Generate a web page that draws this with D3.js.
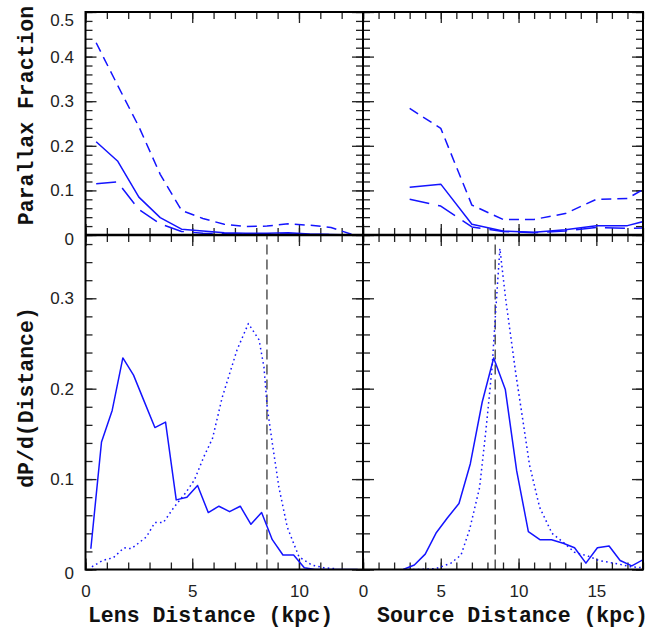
<!DOCTYPE html>
<html>
<head>
<meta charset="utf-8">
<script src="https://cdn.jsdelivr.net/npm/d3@7"></script>
<style>
  body { margin: 0; background: #fff; }
  svg { display: block; }
  .axis-title {
    font-family: "Liberation Mono", "DejaVu Sans Mono", monospace;
    font-weight: bold;
    font-size: 21.5px;
    fill: #111;
  }
</style>
</head>
<body>
<svg width="663" height="629"></svg>
<script>
"use strict";

// ---- data ----
// top panels: parallax fraction per distance bin
const lensBins = [0.5, 1.5, 2.5, 3.5, 4.5, 5.5, 6.5, 7.5, 8.5, 9.5, 10.5, 11.5, 12.5];
const lensFracDashed = [0.431, 0.336, 0.243, 0.136, 0.055, 0.037, 0.024, 0.019, 0.020, 0.025, 0.022, 0.017, 0.001];
const lensFracSolid = [0.209, 0.166, 0.085, 0.039, 0.013, 0.009, 0.005, 0.004, 0.004, 0.005, 0.002, 0.001, 0.0];
const lensFracLong = [0.115, 0.119, 0.057, 0.025, 0.008, 0.004, 0.003, 0.002, 0.002, 0.002, 0.001, 0.001, 0.0];

const sourceBins = [3, 5, 7, 9, 11, 13, 15, 17, 19];
const sourceFracDashed = [0.284, 0.239, 0.067, 0.035, 0.035, 0.048, 0.080, 0.082, 0.122];
const sourceFracSolid = [0.107, 0.114, 0.024, 0.009, 0.006, 0.012, 0.021, 0.021, 0.039];
const sourceFracLong = [0.080, 0.065, 0.018, 0.008, 0.005, 0.009, 0.017, 0.015, 0.016];

// bottom panels: dP/d(distance)
const lensSolidX = [0.25, 0.75, 1.25, 1.75, 2.25, 2.75, 3.25, 3.75, 4.25, 4.75, 5.25, 5.75, 6.25, 6.75, 7.25, 7.75, 8.25, 8.75, 9.25, 9.75, 10.25, 10.75, 12.75];
const lensSolidY = [0.023, 0.141, 0.176, 0.234, 0.215, 0.186, 0.157, 0.163, 0.077, 0.080, 0.093, 0.063, 0.070, 0.064, 0.070, 0.050, 0.063, 0.033, 0.016, 0.016, 0.002, 0.0, 0.0];
const lensDotX = [0.3, 0.8, 1.3, 1.8, 2.15, 2.85, 3.25, 3.65, 4.15, 4.7, 5.1, 5.55, 5.95, 6.4, 7.1, 7.63, 8.13, 8.36, 8.51, 8.75, 9.06, 9.45, 10.0, 10.6, 11.15, 11.7];
const lensDotY = [0.003, 0.010, 0.013, 0.024, 0.023, 0.036, 0.052, 0.052, 0.069, 0.085, 0.099, 0.125, 0.145, 0.190, 0.243, 0.272, 0.254, 0.224, 0.180, 0.140, 0.091, 0.047, 0.014, 0.005, 0.002, 0.001];

const sourceSolidX = [2.58, 3.3, 4.0, 4.72, 5.42, 6.17, 6.9, 7.66, 8.4, 9.15, 9.88, 10.63, 11.37, 12.12, 12.87, 13.6, 14.33, 15.07, 15.82, 16.53, 17.28, 18.02];
const sourceSolidY = [0.0, 0.005, 0.017, 0.041, 0.057, 0.073, 0.117, 0.185, 0.234, 0.199, 0.109, 0.042, 0.033, 0.033, 0.029, 0.024, 0.007, 0.024, 0.026, 0.010, 0.004, 0.011];
const sourceDotX = [2.9, 3.65, 4.7, 5.65, 6.3, 6.85, 7.5, 7.95, 8.3, 8.55, 8.8, 9.18, 9.82, 10.25, 10.7, 11.35, 12.15, 12.95, 13.6, 14.45, 15.15, 15.8, 16.45, 17.2, 17.95];
const sourceDotY = [0.0, 0.0, 0.001, 0.007, 0.016, 0.044, 0.091, 0.162, 0.224, 0.291, 0.355, 0.298, 0.217, 0.168, 0.116, 0.069, 0.040, 0.029, 0.019, 0.015, 0.010, 0.008, 0.006, 0.003, 0.002];

const galacticCenter = 8.5;

// ticks
const lensTicks = [0, 5, 10];
const sourceTicks = [0, 5, 10, 15];
const fracTicks = [0, 0.1, 0.2, 0.3, 0.4, 0.5];
const densTicks = [0, 0.1, 0.2, 0.3];

// ---- layout ----
const svg = d3.select("svg");
const edgeL = 85.5, edgeMid = 363, edgeR = 643;
const edgeT = 12, edgeHMid = 235, edgeB = 569.5;
const blue = "#1414ff";
const major = 11, minor = 7;

const xLens = d3.scaleLinear().domain([0, 13]).range([edgeL, edgeMid]);
const xSource = d3.scaleLinear().domain([0, 18]).range([edgeMid, edgeR]);
const yFrac = d3.scaleLinear().domain([0, 0.5]).range([edgeHMid, edgeT]);
const yDens = d3.scaleLinear().domain([0, 0.37]).range([edgeB, edgeHMid]);

const panels = [
  { id: "tl", x: xLens, y: yFrac, xMinor: d3.range(0, 13.01, 1), yMinor: d3.range(0, 0.501, 0.02) },
  { id: "tr", x: xSource, y: yFrac, xMinor: d3.range(0, 18.01, 1), yMinor: d3.range(0, 0.501, 0.02) },
  { id: "bl", x: xLens, y: yDens, xMinor: d3.range(0, 13.01, 1), yMinor: d3.range(0, 0.371, 0.02) },
  { id: "br", x: xSource, y: yDens, xMinor: d3.range(0, 18.01, 1), yMinor: d3.range(0, 0.371, 0.02) }
];

const defs = svg.append("defs");
panels.forEach(p => {
  const [x0, x1] = p.x.range();
  const [y0, y1] = p.y.range();
  defs.append("clipPath").attr("id", "clip-" + p.id)
    .append("rect")
    .attr("x", x0).attr("y", y1)
    .attr("width", x1 - x0).attr("height", y0 - y1);
});

// ticks on all four sides, pointing inward
const tickG = svg.append("g").attr("stroke-width", 1.3);
const drawTicks = (axisFn, scale, values, size, transform) => {
  const g = tickG.append("g")
    .attr("transform", transform)
    .call(axisFn(scale).tickValues(values).tickSizeInner(-size).tickSizeOuter(0).tickFormat(""));
  g.select(".domain").remove();
  g.selectAll("line").attr("stroke", "#222");
};

panels.forEach(p => {
  const [x0, x1] = p.x.range();
  const [y0, y1] = p.y.range();
  const xMaj = p.x === xLens ? lensTicks : sourceTicks;
  const yMaj = p.y === yFrac ? fracTicks : densTicks;
  [[xMaj, major], [p.xMinor, minor]].forEach(([vals, s]) => {
    drawTicks(d3.axisBottom, p.x, vals, s, `translate(0,${y0})`);
    drawTicks(d3.axisTop, p.x, vals, s, `translate(0,${y1})`);
  });
  [[yMaj, major], [p.yMinor, minor]].forEach(([vals, s]) => {
    drawTicks(d3.axisLeft, p.y, vals, s, `translate(${x0},0)`);
    drawTicks(d3.axisRight, p.y, vals, s, `translate(${x1},0)`);
  });
});

// tick labels
const labelAxis = (axis, transform) => {
  const g = svg.append("g")
    .attr("transform", transform)
    .call(axis.tickSize(0))
    .attr("font-family", '"Liberation Sans", Arial, Helvetica, sans-serif')
    .attr("font-size", 17);
  g.select(".domain").remove();
  g.selectAll("text").attr("fill", "#222");
  return g;
};

const fmtY = d => (d === 0 ? "0" : d3.format(".1f")(d));

const topY = labelAxis(d3.axisLeft(yFrac).tickValues(fracTicks).tickFormat(fmtY).tickPadding(11.5),
  `translate(${edgeL},0)`);
topY.selectAll("text").filter(d => d === 0.5).attr("dy", "0.8em");
topY.selectAll("text").filter(d => d === 0).attr("dy", "0.55em");

const botY = labelAxis(d3.axisLeft(yDens).tickValues(densTicks).tickFormat(fmtY).tickPadding(11.5),
  `translate(${edgeL},0)`);
botY.selectAll("text").filter(d => d === 0).attr("dy", "0.55em");

labelAxis(d3.axisBottom(xLens).tickValues(lensTicks).tickFormat(d3.format("d")).tickPadding(15),
  `translate(0,${edgeB})`);
labelAxis(d3.axisBottom(xSource).tickValues(sourceTicks).tickFormat(d3.format("d")).tickPadding(15),
  `translate(0,${edgeB})`);

// ---- curves ----
const drawLine = (p, xs, ys, dash) => {
  const line = d3.line().x(d => p.x(d[0])).y(d => p.y(d[1]));
  svg.append("path")
    .attr("clip-path", `url(#clip-${p.id})`)
    .attr("d", line(d3.zip(xs, ys)))
    .attr("fill", "none")
    .attr("stroke", blue)
    .attr("stroke-width", 1.5)
    .attr("stroke-linejoin", "round")
    .attr("stroke-dasharray", dash);
};

const [tl, tr, bl, br] = panels;

// galactic centre marker
[bl, br].forEach(p => {
  svg.append("line")
    .attr("x1", p.x(galacticCenter)).attr("x2", p.x(galacticCenter))
    .attr("y1", p.y(0)).attr("y2", p.y(0.37))
    .attr("stroke", "#555")
    .attr("stroke-width", 1.5)
    .attr("stroke-dasharray", "10,5");
});

drawLine(tl, lensBins, lensFracDashed, "10,6");
drawLine(tl, lensBins, lensFracSolid, null);
drawLine(tl, lensBins, lensFracLong, "20,9");
drawLine(tr, sourceBins, sourceFracDashed, "10,6");
drawLine(tr, sourceBins, sourceFracSolid, null);
drawLine(tr, sourceBins, sourceFracLong, "20,9");

drawLine(bl, lensSolidX, lensSolidY, null);
drawLine(bl, lensDotX, lensDotY, "1.6,3.2");
drawLine(br, sourceSolidX, sourceSolidY, null);
drawLine(br, sourceDotX, sourceDotY, "1.6,3.2");

// ---- frame ----
const frame = svg.append("g").attr("stroke", "#000").attr("stroke-width", 2).attr("fill", "none");
frame.append("rect").attr("x", edgeL).attr("y", edgeT).attr("width", edgeR - edgeL).attr("height", edgeB - edgeT);
frame.append("line").attr("x1", edgeMid).attr("x2", edgeMid).attr("y1", edgeT).attr("y2", edgeB);
frame.append("line").attr("x1", edgeL).attr("x2", edgeR).attr("y1", edgeHMid).attr("y2", edgeHMid).attr("stroke-width", 2.5);

// ---- axis titles ----
svg.append("text").attr("class", "axis-title")
  .attr("x", 210.5).attr("y", 622).attr("text-anchor", "middle")
  .text("Lens Distance (kpc)");
svg.append("text").attr("class", "axis-title")
  .attr("x", 512.5).attr("y", 622).attr("text-anchor", "middle")
  .text("Source Distance (kpc)");
svg.append("text").attr("class", "axis-title")
  .attr("transform", "translate(33,115.5) rotate(-90)").attr("text-anchor", "middle")
  .text("Parallax Fraction");
svg.append("text").attr("class", "axis-title")
  .attr("transform", "translate(33,397.5) rotate(-90)").attr("text-anchor", "middle")
  .text("dP/d(Distance)");
</script>
</body>
</html>
